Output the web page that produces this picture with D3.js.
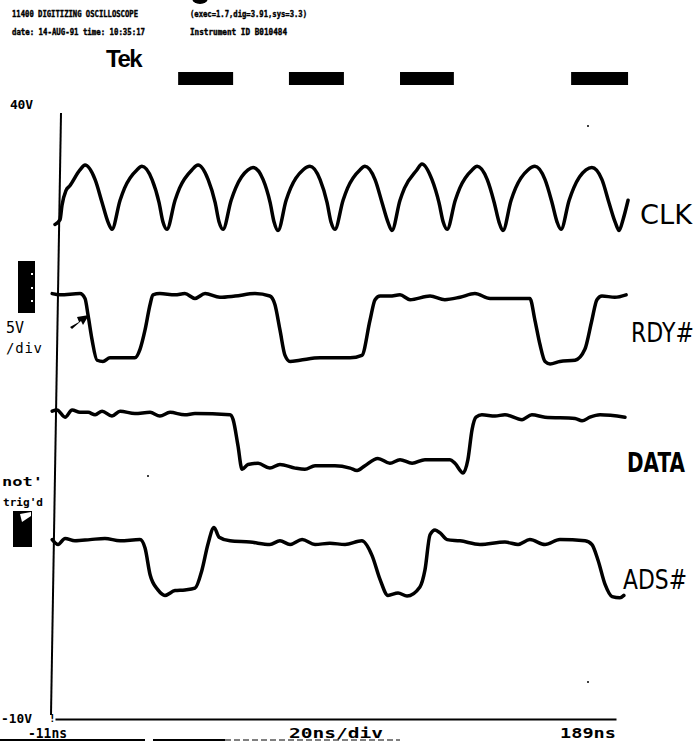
<!DOCTYPE html>
<html>
<head>
<meta charset="utf-8">
<script src="https://cdnjs.cloudflare.com/ajax/libs/d3/7.8.5/d3.min.js"></script>
<style>
	body { margin: 0; background: #fff; }
	svg { display: block; }
</style>
</head>
<body>
<div id="wrapper"></div>
<script>
// values: [time in ns, level in V]

const clkPoints = [
	[-11.0,30.8],[-9.2,31.2],[-8.5,32.4],[-7.1,33.6],[-5.7,34.0],[-2.1,35.3],[-0.3,35.7],
	[3.3,34.5],[5.8,32.6],[7.9,31.0],[9.3,30.4],
	[12.2,32.8],[13.8,33.8],[18.2,35.3],[20.0,35.6],
	[23.6,34.5],[26.1,32.6],[27.5,31.0],[28.9,30.4],
	[31.8,32.8],[33.4,33.8],[37.8,35.3],[40.0,35.7],
	[43.6,34.5],[46.1,32.6],[47.5,31.0],[48.9,30.4],
	[51.8,32.8],[53.4,33.8],[57.8,35.3],[59.6,35.5],
	[63.2,34.5],[65.7,32.6],[67.1,31.0],[68.5,30.3],
	[71.4,32.8],[73.0,33.8],[77.4,35.3],[79.9,35.6],
	[83.5,34.5],[86.0,32.6],[87.4,31.0],[88.8,30.4],
	[91.7,32.8],[93.3,33.8],[97.7,35.3],[99.5,35.6],
	[103.1,34.5],[105.6,32.6],[107.7,31.0],[109.1,30.3],
	[112.0,32.8],[113.6,33.8],[118.0,35.3],[119.8,35.8],
	[123.4,34.5],[125.9,32.6],[127.4,31.0],[128.8,30.4],
	[131.7,32.8],[133.3,33.8],[137.7,35.3],[139.5,35.6],
	[143.1,34.5],[145.6,32.6],[147.3,31.0],[148.7,30.3],
	[151.6,32.8],[153.2,33.8],[157.6,35.3],[160.1,35.6],
	[163.7,34.5],[166.2,32.6],[168.0,31.0],[169.4,30.4],
	[172.3,32.8],[173.9,33.8],[178.3,35.3],[180.4,35.5],
	[184.0,34.5],[186.5,32.6],[188.7,31.0],[190.1,30.3],
	[191.5,31.2],[193.3,32.8]
];

const rdyPoints = [
	[-12.0,25.1],[-9.2,25.0],[-2.1,25.1],[-0.3,24.7],[0.8,23.3],[2.2,21.3],[4.0,19.6],
	[6.1,19.5],[8.6,19.8],[17.5,19.8],[19.3,20.5],[21.1,22.1],[22.9,24.2],[23.9,25.0],
	[26.4,25.1],[31.8,25.0],[35.3,25.1],[38.9,24.7],[42.5,25.1],[47.8,24.8],[53.2,24.9],
	[60.3,25.1],[65.6,24.9],[67.4,24.2],[69.2,22.1],[71.0,20.0],[72.8,19.5],[76.3,19.6],
	[83.5,19.8],[94.2,19.8],[98.4,20.0],[101.3,22.9],[103.1,24.6],[104.9,24.9],[108.4,24.9],
	[112.0,25.0],[115.6,24.6],[122.7,24.9],[128.0,24.6],[133.4,24.8],[138.7,25.1],[144.1,24.7],
	[158.3,24.7],[160.1,22.9],[161.9,20.9],[163.7,19.5],[165.5,19.3],[169.0,19.5],[174.4,19.6],
	[177.9,20.5],[180.4,22.9],[182.2,24.6],[184.0,24.9],[188.6,24.8],[192.6,25.0]
];

const dataPoints = [
	[-12.0,15.4],[-10.3,15.5],[-7.4,14.9],[-4.9,15.5],[-2.1,15.3],[0.8,15.3],[3.3,15.1],
	[5.8,15.4],[9.3,15.0],[12.2,15.4],[17.5,15.2],[22.9,15.3],[26.4,15.0],[30.0,15.3],
	[35.3,15.1],[38.9,15.2],[51.4,15.1],[52.5,14.7],[54.2,12.6],[55.7,10.6],[57.8,11.0],
	[61.4,11.1],[65.6,10.7],[69.2,11.0],[74.6,10.7],[78.1,10.6],[81.7,10.9],[88.8,10.9],
	[94.2,10.7],[96.7,10.5],[99.5,10.9],[104.1,11.5],[108.4,11.1],[112.0,11.4],[116.3,11.1],
	[120.9,11.4],[129.8,11.4],[131.6,11.1],[134.5,10.3],[136.2,11.4],[137.7,13.9],[139.1,14.9],
	[141.2,15.1],[145.9,15.0],[149.4,15.1],[155.5,14.7],[159.0,15.1],[163.7,14.9],[174.4,14.8],
	[176.9,14.6],[179.7,14.9],[183.3,15.1],[192.2,14.9]
];

const adsPoints = [
	[-12.0,4.8],[-9.9,4.4],[-7.4,4.9],[-3.9,4.7],[1.5,4.8],[6.8,4.9],[12.2,4.7],[19.3,4.8],
	[21.1,4.1],[22.9,1.9],[25.7,0.65],[28.2,0.2],[31.8,0.6],[35.3,0.65],[38.9,0.8],[41.4,2.3],
	[43.5,4.4],[45.7,5.8],[47.5,5.0],[51.4,4.7],[58.5,4.6],[65.6,4.4],[69.2,4.7],[72.8,4.4],
	[77.1,4.8],[81.7,4.4],[87.0,4.5],[92.4,4.4],[98.4,4.7],[102.0,3.5],[104.9,1.5],[107.7,0.2],
	[111.3,0.4],[114.5,0.15],[119.1,0.9],[120.9,2.3],[122.7,5.2],[124.5,5.6],[126.3,5.35],
	[128.8,4.8],[133.4,4.7],[140.5,4.4],[149.4,4.6],[154.1,4.4],[158.3,4.8],[163.7,4.4],
	[169.0,4.8],[178.0,4.7],[180.4,4.4],[182.6,3.1],[185.1,1.1],[187.6,0.1],[190.4,0.0],[191.8,0.2]
];

const channelNames = ["CLK", "RDY#", "DATA", "ADS#"];
const timeRange = [-11, 189];
const voltRange = [-10, 40];
const timeLabels = ["-11ns", "20ns/div", "189ns"];
const voltLabels = ["40V", "-10V"];
const scaleLabels = ["5V", "/div"];
const triggerLabels = ["not'", "trig'd"];
// black bars above the screen, [start ns, end ns]
const markerSpans = [[32.9, 52.5], [72.4, 92.0], [112.0, 131.2], [173.0, 193.3]];
const headerLeft = ["11400 DIGITIZING OSCILLOSCOPE", "date: 14-AUG-91 time: 10:35:17"];
const headerRight = ["(exec=1.7,dig=3.91,sys=3.3)", "Instrument ID B010484"];

function drawScope() {

	// 1. dimensions

	let dimensions = {
		width: 698,
		height: 741,
		screen: { left: 55, right: 616, top: 113, bottom: 719 }
	};

	// 2. canvas

	const svg = d3.select("#wrapper")
		.append("svg")
		.attr("width", dimensions.width)
		.attr("height", dimensions.height);

	svg.append("rect")
		.attr("width", dimensions.width)
		.attr("height", dimensions.height)
		.attr("fill", "#fff");

	// 3. scales

	const xScale = d3.scaleLinear()
		.domain(timeRange)
		.range([dimensions.screen.left, dimensions.screen.right]);

	const yScale = d3.scaleLinear()
		.domain(voltRange)
		.range([dimensions.screen.bottom, dimensions.screen.top]);

	// 4. header

	const mono = "'DejaVu Sans Mono', monospace";

	const header = svg.append("g")
		.attr("font-family", mono)
		.attr("font-weight", "bold")
		.attr("font-size", 8.5)
		.attr("fill", "#000")
		.attr("stroke", "#000")
		.attr("stroke-width", 0.4);

	headerLeft.forEach((t, i) => {
		header.append("text")
			.attr("x", 12).attr("y", 17 + i * 18)
			.attr("textLength", i == 0 ? 126 : 133)
			.attr("lengthAdjust", "spacingAndGlyphs")
			.text(t);
	});
	headerRight.forEach((t, i) => {
		header.append("text")
			.attr("x", 190).attr("y", 17 + i * 18)
			.attr("textLength", i == 0 ? 117 : 97)
			.attr("lengthAdjust", "spacingAndGlyphs")
			.text(t);
	});

	svg.append("ellipse")
		.attr("cx", 200).attr("cy", -2)
		.attr("rx", 8).attr("ry", 6)
		.attr("fill", "#000");

	svg.append("text")
		.attr("x", 106).attr("y", 67)
		.attr("font-family", "'Liberation Sans', Arial, sans-serif")
		.attr("font-weight", "bold")
		.attr("font-size", 24)
		.attr("letter-spacing", -1.5)
		.text("Tek");

	svg.append("g")
		.selectAll("rect")
		.data(markerSpans)
		.join("rect")
		.attr("x", d => xScale(d[0]))
		.attr("width", d => xScale(d[1]) - xScale(d[0]))
		.attr("y", 72)
		.attr("height", 13)
		.attr("fill", "#000");

	// 5. screen frame

	svg.append("line")
		.attr("x1", xScale(timeRange[0]) + 6).attr("y1", yScale(voltRange[1]))
		.attr("x2", xScale(timeRange[0]) - 4).attr("y2", yScale(voltRange[0]) - 4)
		.attr("stroke", "#000")
		.attr("stroke-width", 2);

	const xAxis = svg.append("g")
		.attr("transform", `translate(0,${yScale(voltRange[0])})`)
		.call(d3.axisBottom(xScale).tickValues([]).tickSizeOuter(0));
	xAxis.select(".domain")
		.attr("stroke", "#000")
		.attr("stroke-width", 2);

	// 6. traces

	const lineGen = d3.line()
		.x(d => xScale(d[0]))
		.y(d => yScale(d[1]))
		.curve(d3.curveMonotoneX);

	const traces = [clkPoints, rdyPoints, dataPoints, adsPoints];

	svg.append("g")
		.selectAll("path")
		.data(traces)
		.join("path")
		.attr("d", lineGen)
		.attr("fill", "none")
		.attr("stroke", "#000")
		.attr("stroke-width", 3.5)
		.attr("stroke-linejoin", "round")
		.attr("stroke-linecap", "round");

	// 7. labels

	// x, baseline, width to fit, weight
	const labelPos = [[640, 224, 52, "normal"], [631, 342, 63, "normal"], [627, 472, 58, "bold"], [623, 589, 64, "normal"]];

	svg.append("g")
		.selectAll("text")
		.data(channelNames)
		.join("text")
		.attr("font-weight", (d, i) => labelPos[i][3])
		.attr("font-family", "'DejaVu Sans', sans-serif")
		.attr("font-size", 26)
		.text(d => d)
		.each(function (d, i) {
			const len = this.getComputedTextLength();
			const sx = labelPos[i][2] / len;
			d3.select(this).attr("transform", `translate(${labelPos[i][0]},${labelPos[i][1]}) scale(${sx},1.02)`);
		});

	const side = svg.append("g")
		.attr("font-family", mono)
		.attr("font-weight", "bold")
		.attr("fill", "#000");

	side.append("text")
		.attr("x", 10).attr("y", 109)
		.attr("font-size", 13)
		.attr("textLength", 23)
		.text(voltLabels[0]);

	side.append("text")
		.attr("x", 1).attr("y", 723)
		.attr("font-size", 13)
		.attr("textLength", 31)
		.attr("lengthAdjust", "spacingAndGlyphs")
		.text(voltLabels[1]);

	side.append("text")
		.attr("x", 49).attr("y", 722)
		.attr("font-size", 11)
		.text("!");

	const bottomPos = [[28, 39], [289, 94], [560, 56]];
	side.selectAll(".tlab")
		.data(timeLabels)
		.join("text")
		.attr("class", "tlab")
		.attr("x", (d, i) => bottomPos[i][0])
		.attr("y", 738)
		.attr("font-size", 14)
		.attr("textLength", (d, i) => bottomPos[i][1])
		.attr("lengthAdjust", "spacingAndGlyphs")
		.text(d => d);

	svg.append("line")
		.attr("x1", 0).attr("x2", 145).attr("y1", 740).attr("y2", 740)
		.attr("stroke", "#000").attr("stroke-width", 2);
	svg.append("line")
		.attr("x1", 153).attr("x2", 225).attr("y1", 740).attr("y2", 740)
		.attr("stroke", "#000").attr("stroke-width", 2);
	svg.append("line")
		.attr("x1", 225).attr("x2", 400).attr("y1", 740).attr("y2", 740)
		.attr("stroke", "#000").attr("stroke-width", 1)
		.attr("stroke-dasharray", "6 3");

	// channel indicator blocks

	svg.append("rect")
		.attr("x", 18).attr("y", 261).attr("width", 17).attr("height", 52)
		.attr("fill", "#000");
	[273, 287, 300].forEach(yy => {
		svg.append("rect")
			.attr("x", 31).attr("y", yy).attr("width", 2).attr("height", 2)
			.attr("fill", "#fff");
	});

	side.append("text")
		.attr("x", 6).attr("y", 333)
		.attr("font-size", 15).attr("font-weight", "normal")
		.attr("textLength", 18)
		.text(scaleLabels[0]);
	side.append("text")
		.attr("x", 6).attr("y", 353)
		.attr("font-size", 14).attr("font-weight", "normal")
		.attr("textLength", 36)
		.text(scaleLabels[1]);

	side.append("text")
		.attr("x", 2).attr("y", 486)
		.attr("font-size", 13)
		.attr("textLength", 41)
		.attr("lengthAdjust", "spacingAndGlyphs")
		.text(triggerLabels[0]);
	side.append("text")
		.attr("x", 3).attr("y", 506)
		.attr("font-size", 11)
		.attr("textLength", 40)
		.attr("lengthAdjust", "spacingAndGlyphs")
		.text(triggerLabels[1]);

	svg.append("rect")
		.attr("x", 13).attr("y", 511).attr("width", 19).attr("height", 36)
		.attr("fill", "#000");
	svg.append("path")
		.attr("d", "M20,514 L31,512 L31,516 L22,522 Z")
		.attr("fill", "#fff");

	// arrow pointing at the RDY# falling edge
	svg.append("path")
		.attr("d", "M70,327 L79,322 L77,317 L89,315 L83,325 L81,321 L72,329 Z")
		.attr("fill", "#000");

	// specks on the print
	[[148, 476], [588, 126], [588, 682]].forEach(p => {
		svg.append("circle")
			.attr("cx", p[0]).attr("cy", p[1]).attr("r", 1)
			.attr("fill", "#000");
	});
}

drawScope();
</script>
</body>
</html>
